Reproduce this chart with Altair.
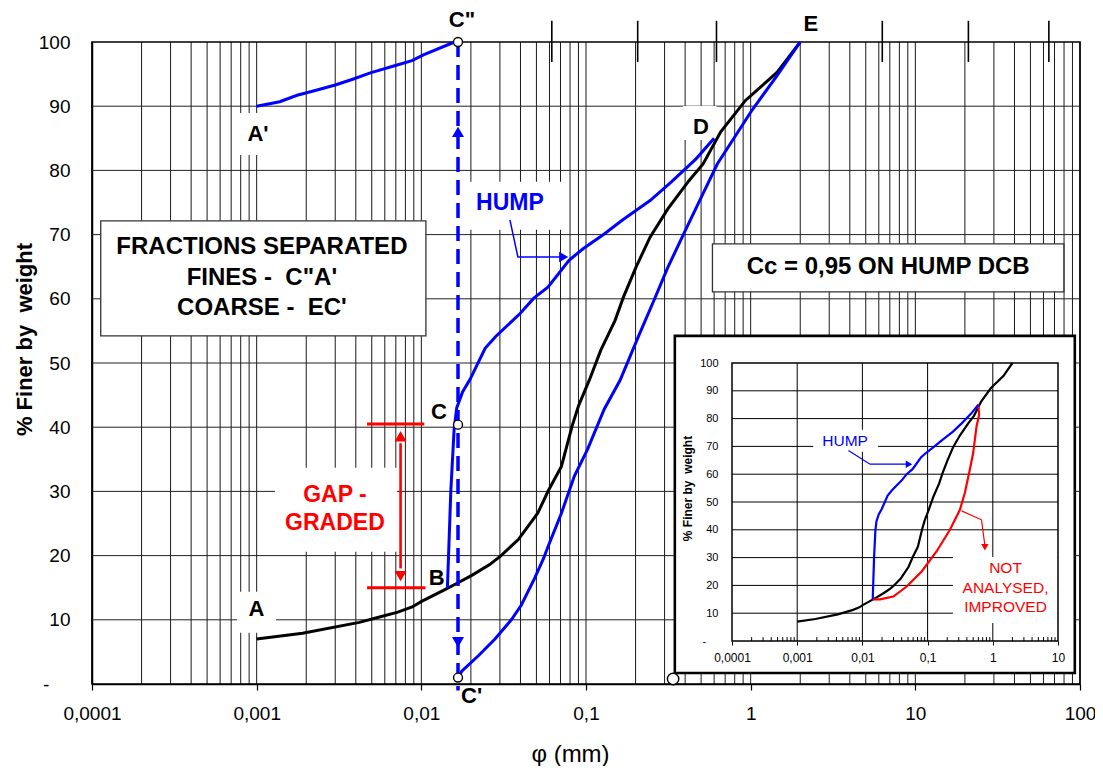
import altair as alt
import pandas as pd

# ------------------------------------------------------------------ data
# main grading curve A -> E (black)
black_x = [0.001, 0.0019, 0.0042, 0.0055, 0.0072, 0.0088, 0.0101, 0.0139, 0.0165, 0.0205, 0.026, 0.0305,
           0.0388, 0.0509, 0.059, 0.0709, 0.0824, 0.090, 0.105, 0.123, 0.150, 0.169, 0.201, 0.245,
           0.314, 0.422, 0.514, 0.658, 0.93, 1.45, 2.0]
black_y = [7.0, 7.9, 9.6, 10.4, 11.2, 12.0, 12.9, 14.7, 15.7, 17.0, 18.6, 20.0,
           22.5, 26.6, 30.1, 33.9, 40.2, 43.3, 47.4, 52.0, 56.6, 60.3, 64.9, 69.6,
           74.0, 78.4, 81.0, 86.0, 90.9, 95.3, 100.0]
# hump B -> C -> D (blue)
hump_x = [0.0144, 0.0151, 0.0158, 0.0164, 0.0178, 0.0198, 0.0244, 0.0282, 0.0398, 0.0482, 0.0587,
          0.0789, 0.096, 0.129, 0.165, 0.245, 0.33, 0.466, 0.6]
hump_y = [15.0, 30.0, 39.5, 43.0, 45.5, 47.5, 52.3, 54.1, 57.7, 60.1, 61.8,
          66.0, 67.8, 70.1, 72.2, 75.3, 78.2, 81.8, 85.0]
# coarse fraction C' -> E (blue)
coarse_x = [0.0170, 0.0176, 0.0222, 0.028, 0.0352, 0.0405, 0.0488, 0.0553, 0.059, 0.0709, 0.085, 0.102,
            0.129, 0.161, 0.211, 0.258, 0.314, 0.392, 0.49, 0.627, 0.80, 1.02, 1.45, 2.0]
coarse_y = [1.3, 2.0, 4.4, 7.0, 10.0, 12.3, 16.5, 19.6, 21.5, 26.6, 32.4, 36.5,
            42.8, 47.3, 54.5, 59.7, 64.9, 70.1, 75.3, 81.0, 85.2, 89.4, 94.8, 100.0]
# fines fraction A' -> C'' (blue)
fines_x = [0.001, 0.00138, 0.00176, 0.00224, 0.003, 0.00383, 0.0049, 0.00688, 0.00877, 0.0103, 0.0159]
fines_y = [90.0, 90.7, 91.7, 92.4, 93.3, 94.2, 95.2, 96.3, 97.1, 98.0, 100.0]
# inset: not analysed, improved (red)
red_x = [0.0144, 0.0186, 0.0298, 0.0478, 0.081, 0.137, 0.22, 0.313, 0.372, 0.444, 0.50, 0.563, 0.618, 0.6]
red_y = [15.0, 15.0, 16.0, 19.6, 25.0, 32.2, 40.0, 47.2, 53.2, 61.6, 67.6, 77.2, 81.4, 85.0]

# separation diameter (C'', C, C') and other marked points
sep_x = 0.0167
circle_x = [0.0167, 0.0167, 0.0167, 0.338]
circle_y = [100.0, 40.4, 1.0, 0.78]
circle_size = [80, 80, 80, 130]

# axes
x_ticks = [0.0001, 0.001, 0.01, 0.1, 1, 10, 100]
x_labels = ["0,0001", "0,001", "0,01", "0,1", "1", "10", "100"]
x_ticks_in = [0.0001, 0.001, 0.01, 0.1, 1, 10]
x_labels_in = ["0,0001", "0,001", "0,01", "0,1", "1", "10"]
y_ticks = [0, 10, 20, 30, 40, 50, 60, 70, 80, 90, 100]
decades = [0.0001, 0.001, 0.01, 0.1, 1, 10]
mantissas = [1, 2, 3, 4, 5, 6, 7, 8, 9]
top_ticks = [0.062, 0.206, 0.62, 6.3, 21.0, 64.7]

# annotations (main chart)
letters = ['C"', "E", "A'", "D", "C", "B", "A", "C'"]
letter_x = [0.01764, 2.32, 0.001019, 0.4986, 0.01279, 0.01239, 0.000997, 0.0202]
letter_y = [103.5, 102.8, 85.7, 86.8, 42.3, 16.5, 11.68, -1.93]

box_text = ["FRACTIONS SEPARATED", "FINES -\u00a0 C\"A'", "COARSE -\u00a0 EC'", "Cc = 0,95 ON HUMP DCB"]
box_tx = [0.001076, 0.001076, 0.001076, 6.84]
box_ty = [68.13, 63.21, 58.54, 65.0]
box_x1 = [0.000113, 0.586]
box_x2 = [0.01066, 79.8]
box_y1 = [54.23, 61.08]
box_y2 = [72.14, 68.55]

gap_text = ["GAP -", "GRADED"]
gap_tx = [0.002988, 0.002988]
gap_ty = [29.47, 25.11]
hump_text_x, hump_text_y = 0.0345, 75.0

bg_x1 = [0.000769, 0.3876, 0.01919, 0.000759, 0.00129]
bg_x2 = [0.001346, 0.62, 0.0714, 0.00131, 0.00711]
bg_y1 = [82.4, 84.74, 70.76, 7.99, 20.6]
bg_y2 = [88.95, 90.04, 78.23, 14.37, 33.68]

gap_line_x1 = [0.00468, 0.00468]
gap_line_x2 = [0.01042, 0.0106]
gap_line_y = [40.5, 15.0]
gap_arrow_x = 0.00748

hump_arrow_x = [0.03451, 0.03859, 0.0732]
hump_arrow_y = [72.3, 66.5, 66.5]

head_x = [0.0167, 0.0167, 0.00748, 0.00748, 0.0732]
head_y = [86.0, 6.5, 38.6, 16.8, 66.5]
head_shape = ["triangle-up", "triangle-down", "triangle-up", "triangle-down", "triangle-right"]
head_color = ["#0000ff", "#0000ff", "#ff0000", "#ff0000", "#0000ff"]
head_size = [144, 144, 144, 144, 112]

inset_box = dict(x=[0.3463], x2=[92.99], y=[1.71], y2=[54.23])

# annotations (inset)
in_bg_x1 = [0.00176, 0.2443]
in_bg_x2 = [0.0174, 9.9]
in_bg_y1 = [68.1, 6.5]
in_bg_y2 = [76.0, 30.2]
in_hump_arrow_x = [0.0061, 0.01309, 0.0518]
in_hump_arrow_y = [68.5, 63.6, 63.6]
in_red_arrow_x = [0.332, 0.671, 0.755]
in_red_arrow_y = [46.8, 43.6, 34.5]
in_head_x = [0.0518, 0.755]
in_head_y = [63.6, 33.7]
in_head_shape = ["triangle-right", "triangle-down"]
in_head_color = ["#0000ff", "#ff0000"]
in_head_size = [56, 56]
in_red_text = ["NOT", "ANALYSED,", "IMPROVED"]
in_red_tx = [1.566, 1.566, 1.566]
in_red_ty = [26.2, 19.2, 12.35]

# ------------------------------------------------------------------ styling
BLUE, RED, BLACK = "#0000ff", "#ff0000", "#000000"
FONT = "Liberation Sans"
# zero label: dash followed by fixed spaces (kept by a zero-width char so they are not trimmed)
ZERO_LABEL = "-\u00a0\u00a0\u00a0\u00a0\u200b"


def label_expr(vals, labs):
    v = "[" + ",".join(repr(float(a)) for a in vals) + "]"
    l = "[" + ",".join("'" + s + "'" for s in labs) + "]"
    return f"indexof({v}, datum.value) >= 0 ? {l}[indexof({v}, datum.value)] : ''"


X_MAIN = alt.Scale(type="log", domain=[0.0001, 100], nice=False)
Y_MAIN = alt.Scale(type="linear", domain=[0, 100], nice=False, zero=False)
X_IN = alt.Scale(type="log", domain=[0.0001, 10], nice=False, range=[640, 966])
Y_IN = alt.Scale(type="linear", domain=[0, 100], nice=False, zero=False, range=[599, 321])

AX_MX = alt.Axis(orient="bottom", values=x_ticks, labelExpr=label_expr(x_ticks, x_labels),
                 grid=False, ticks=True, tickSize=6, tickColor=BLACK, tickWidth=1.2,
                 domain=True, domainColor=BLACK, domainWidth=1.5,
                 labelFontSize=19, labelColor=BLACK, labelPadding=14, labelFlush=False, labelOverlap=False,
                 title="φ (mm)", titleFontSize=24, titleFontWeight="normal", titleColor=BLACK,
                 titleX=478, titleY=70, titleAlign="center", titleBaseline="middle")
AX_MY = alt.Axis(orient="left", values=y_ticks,
                 labelExpr=f"datum.value == 0 ? '{ZERO_LABEL}' : datum.label",
                 grid=False, ticks=False, tickSize=0, domain=True, domainColor=BLACK, domainWidth=1.5,
                 labelFontSize=19, labelColor=BLACK, labelPadding=22, labelFlush=False, labelOverlap=False,
                 title="% Finer by\u00a0 weight", titleFontSize=22, titleFontWeight="bold", titleColor=BLACK,
                 titleX=-68, titleY=297, titleAngle=270, titleAlign="center", titleBaseline="middle")
AX_IX = alt.Axis(orient="bottom", offset=-43, zindex=1, values=x_ticks_in,
                 labelExpr=label_expr(x_ticks_in, x_labels_in),
                 grid=False, ticks=True, tickSize=4, tickColor=BLACK, domain=False,
                 labelFontSize=12, labelColor=BLACK, labelPadding=7, labelFlush=False, labelOverlap=False,
                 title="")
AX_IY = alt.Axis(orient="left", offset=-640, zindex=1, values=y_ticks,
                 labelExpr=f"datum.value == 0 ? '{ZERO_LABEL}' : datum.label",
                 grid=False, ticks=False, tickSize=0, domain=False,
                 labelFontSize=11, labelColor=BLACK, labelPadding=14, labelFlush=False, labelOverlap=False,
                 title="% Finer by\u00a0 weight", titleFontSize=12, titleFontWeight="bold", titleColor=BLACK,
                 titleX=-45, titleY=446, titleAngle=270, titleAlign="center", titleBaseline="middle")


def mx(f="x"):
    return alt.X(f, type="quantitative", scale=X_MAIN, axis=AX_MX)


def my(f="y"):
    return alt.Y(f, type="quantitative", scale=Y_MAIN, axis=AX_MY)


def ix(f="x"):
    return alt.X(f, type="quantitative", scale=X_IN, axis=AX_IX)


def iy(f="y"):
    return alt.Y(f, type="quantitative", scale=Y_IN, axis=AX_IY)


def curve(xs, ys):
    return pd.DataFrame({"x": xs, "y": ys, "i": list(range(len(xs)))})


# ------------------------------------------------------------------ main layers
grid_x = [m * d for d in decades for m in mantissas] + [100]
vgrid = alt.Chart(pd.DataFrame({"x": grid_x, "y": 0, "y2": 100})).mark_rule(
    color=BLACK, strokeWidth=1, opacity=0.9).encode(x=mx(), y=my(), y2="y2")
hgrid = alt.Chart(pd.DataFrame({"y": y_ticks[1:-1], "x": 0.0001, "x2": 100})).mark_rule(
    color="#222222", strokeWidth=1).encode(x=mx(), x2="x2", y=my())
tticks = alt.Chart(pd.DataFrame({"x": top_ticks, "y": 96.9, "y2": 103.3})).mark_rule(
    color=BLACK, strokeWidth=1.6).encode(x=mx(), y=my(), y2="y2")
bgs = alt.Chart(pd.DataFrame({"x": bg_x1, "x2": bg_x2, "y": bg_y1, "y2": bg_y2})).mark_rect(
    color="white").encode(x=mx(), x2="x2", y=my(), y2="y2")
boxes = alt.Chart(pd.DataFrame({"x": box_x1, "x2": box_x2, "y": box_y1, "y2": box_y2})).mark_rect(
    fill="white", stroke="#333333", strokeWidth=1.3).encode(x=mx(), x2="x2", y=my(), y2="y2")

l_black = alt.Chart(curve(black_x, black_y)).mark_line(color=BLACK, strokeWidth=3).encode(
    x=mx(), y=my(), order="i:Q")
l_hump = alt.Chart(curve(hump_x, hump_y)).mark_line(color=BLUE, strokeWidth=3).encode(
    x=mx(), y=my(), order="i:Q")
l_coarse = alt.Chart(curve(coarse_x, coarse_y)).mark_line(color=BLUE, strokeWidth=3).encode(
    x=mx(), y=my(), order="i:Q")
l_fines = alt.Chart(curve(fines_x, fines_y)).mark_line(color=BLUE, strokeWidth=3).encode(
    x=mx(), y=my(), order="i:Q")

dashed = alt.Chart(pd.DataFrame({"x": [sep_x], "y": [100], "y2": [-1]})).mark_rule(
    color=BLUE, strokeWidth=3.5, strokeDash=[15, 8]).encode(x=mx(), y=my(), y2="y2")
gap_h = alt.Chart(pd.DataFrame({"x": gap_line_x1, "x2": gap_line_x2, "y": gap_line_y})).mark_rule(
    color=RED, strokeWidth=3).encode(x=mx(), x2="x2", y=my())
gap_v = alt.Chart(pd.DataFrame({"x": [gap_arrow_x], "y": [gap_line_y[0] - 3], "y2": [gap_line_y[1] + 3]})).mark_rule(
    color=RED, strokeWidth=2.6).encode(x=mx(), y=my(), y2="y2")
h_arrow = alt.Chart(curve(hump_arrow_x, hump_arrow_y)).mark_line(color=BLUE, strokeWidth=1.5).encode(
    x=mx(), y=my(), order="i:Q")
heads = alt.Chart(pd.DataFrame({"x": head_x, "y": head_y, "shape": head_shape, "color": head_color,
                                "size": head_size})).mark_point(filled=True, opacity=1, strokeWidth=0).encode(
    x=mx(), y=my(), shape=alt.Shape("shape:N", scale=None), color=alt.Color("color:N", scale=None),
    size=alt.Size("size:Q", scale=None))
in_outer = alt.Chart(pd.DataFrame(inset_box)).mark_rect(
    fill="white", stroke=BLACK, strokeWidth=2.6).encode(x=mx(), x2="x2", y=my(), y2="y2")
circles = alt.Chart(pd.DataFrame({"x": circle_x, "y": circle_y, "size": circle_size})).mark_point(
    shape="circle", filled=True, fill="white", stroke=BLACK, strokeWidth=1.4, opacity=1).encode(
    x=mx(), y=my(), size=alt.Size("size:Q", scale=None))

t_letters = alt.Chart(pd.DataFrame({"x": letter_x, "y": letter_y, "t": letters})).mark_text(
    fontSize=22, fontWeight="bold", color=BLACK, align="center", baseline="middle").encode(
    x=mx(), y=my(), text="t:N")
t_boxes = alt.Chart(pd.DataFrame({"x": box_tx, "y": box_ty, "t": box_text})).mark_text(
    fontSize=24, fontWeight="bold", color=BLACK, align="center", baseline="middle").encode(
    x=mx(), y=my(), text="t:N")
t_gap = alt.Chart(pd.DataFrame({"x": gap_tx, "y": gap_ty, "t": gap_text})).mark_text(
    fontSize=23, fontWeight="bold", color=RED, align="center", baseline="middle").encode(
    x=mx(), y=my(), text="t:N")
t_hump = alt.Chart(pd.DataFrame({"x": [hump_text_x], "y": [hump_text_y], "t": ["HUMP"]})).mark_text(
    fontSize=23, fontWeight="bold", color=BLUE, align="center", baseline="middle").encode(
    x=mx(), y=my(), text="t:N")

main = alt.layer(vgrid, hgrid, tticks, bgs, boxes, l_black, l_hump, l_coarse, l_fines, dashed,
                 gap_h, gap_v, h_arrow, heads, in_outer, circles, t_letters, t_boxes, t_gap, t_hump)

# ------------------------------------------------------------------ inset layers
in_vgrid = alt.Chart(pd.DataFrame({"x": x_ticks_in[1:-1], "y": 0, "y2": 100})).mark_rule(
    color=BLACK, strokeWidth=1).encode(x=ix(), y=iy(), y2="y2")
in_hgrid = alt.Chart(pd.DataFrame({"y": y_ticks[1:-1], "x": 0.0001, "x2": 10})).mark_rule(
    color=BLACK, strokeWidth=1).encode(x=ix(), x2="x2", y=iy())
minor_in = [m * d for d in decades[:-1] for m in mantissas[1:]]
in_minor = alt.Chart(pd.DataFrame({"x": minor_in, "y": 0, "y2": 1.4})).mark_rule(
    color=BLACK, strokeWidth=1).encode(x=ix(), y=iy(), y2="y2")
in_bgs = alt.Chart(pd.DataFrame({"x": in_bg_x1, "x2": in_bg_x2, "y": in_bg_y1, "y2": in_bg_y2})).mark_rect(
    color="white").encode(x=ix(), x2="x2", y=iy(), y2="y2")
in_border = alt.Chart(pd.DataFrame({"x": [0.0001], "x2": [10], "y": [0], "y2": [100]})).mark_rect(
    fillOpacity=0, stroke=BLACK, strokeWidth=1.5).encode(x=ix(), x2="x2", y=iy(), y2="y2")
in_black = alt.Chart(curve(black_x, black_y)).mark_line(color=BLACK, strokeWidth=2.2).encode(
    x=ix(), y=iy(), order="i:Q")
in_red = alt.Chart(curve(red_x, red_y)).mark_line(color=RED, strokeWidth=2.2).encode(
    x=ix(), y=iy(), order="i:Q")
in_hump = alt.Chart(curve(hump_x, hump_y)).mark_line(color=BLUE, strokeWidth=2.2).encode(
    x=ix(), y=iy(), order="i:Q")
in_harrow = alt.Chart(curve(in_hump_arrow_x, in_hump_arrow_y)).mark_line(color=BLUE, strokeWidth=1.2).encode(
    x=ix(), y=iy(), order="i:Q")
in_rarrow = alt.Chart(curve(in_red_arrow_x, in_red_arrow_y)).mark_line(color=RED, strokeWidth=1.2).encode(
    x=ix(), y=iy(), order="i:Q")
in_heads = alt.Chart(pd.DataFrame({"x": in_head_x, "y": in_head_y, "shape": in_head_shape,
                                   "color": in_head_color, "size": in_head_size})).mark_point(
    filled=True, opacity=1, strokeWidth=0).encode(
    x=ix(), y=iy(), shape=alt.Shape("shape:N", scale=None), color=alt.Color("color:N", scale=None),
    size=alt.Size("size:Q", scale=None))
in_t_hump = alt.Chart(pd.DataFrame({"x": [0.00543], "y": [72.0], "t": ["HUMP"]})).mark_text(
    fontSize=15.5, color=BLUE, align="center", baseline="middle").encode(x=ix(), y=iy(), text="t:N")
in_t_red = alt.Chart(pd.DataFrame({"x": in_red_tx, "y": in_red_ty, "t": in_red_text})).mark_text(
    fontSize=15.5, color=RED, align="center", baseline="middle").encode(x=ix(), y=iy(), text="t:N")

inset = alt.layer(in_vgrid, in_hgrid, in_minor, in_bgs, in_border, in_black, in_red, in_hump,
                  in_harrow, in_rarrow, in_heads, in_t_hump, in_t_red)

chart = alt.layer(main, inset).resolve_scale(x="independent", y="independent").properties(
    width=988, height=642,
    autosize=alt.AutoSizeParams(type="none"),
    padding={"left": 84, "top": 34, "right": 15, "bottom": 82},
).configure(font=FONT).configure_view(stroke=BLACK, strokeWidth=1.6)

chart.save("out.html", embed_options={"renderer": "svg", "actions": False})
